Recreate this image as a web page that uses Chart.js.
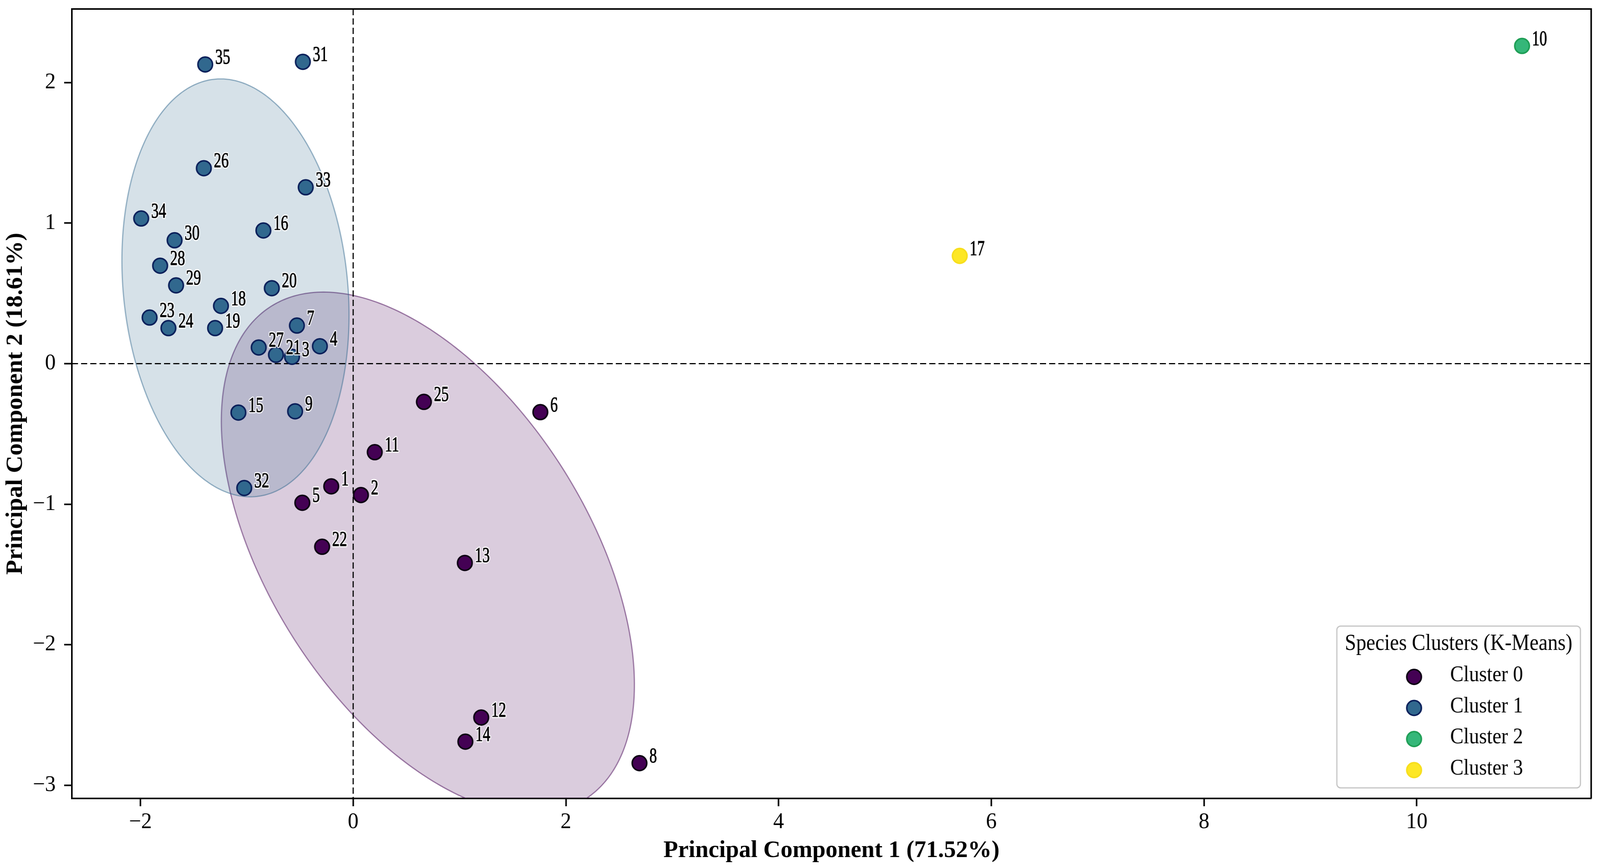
<!DOCTYPE html>
<html><head><meta charset="utf-8">
<script src="https://cdn.jsdelivr.net/npm/chart.js@4.4.1/dist/chart.umd.min.js"></script>
<style>html,body{margin:0;padding:0;background:#fff;overflow:hidden;width:100%;height:100%;}canvas{display:block;}</style>
</head><body>
<canvas id="c" width="4165" height="2221" style="width:100vw;height:100vh"></canvas>
<script>
// ---------- data ----------
const clusterNames = ['Cluster 0', 'Cluster 1', 'Cluster 2', 'Cluster 3'];

const c0Ids = ['1', '2', '5', '6', '8', '11', '12', '13', '14', '22', '25'];
const c0X = [-0.206, 0.073, -0.478, 1.760, 2.692, 0.203, 1.204, 1.050, 1.055, -0.292, 0.665];
const c0Y = [-0.873, -0.935, -0.990, -0.345, -2.843, -0.630, -2.518, -1.418, -2.690, -1.303, -0.272];

const c1Ids = ['3', '4', '7', '9', '15', '16', '18', '19', '20', '21', '23', '24', '26', '27', '28', '29', '30', '31', '32', '33', '34', '35'];
const c1X = [-0.575, -0.313, -0.529, -0.546, -1.079, -0.844, -1.243, -1.298, -0.765, -0.726, -1.914, -1.737, -1.404, -0.888, -1.815, -1.665, -1.679, -0.473, -1.024, -0.446, -1.993, -1.391];
const c1Y = [0.049, 0.124, 0.271, -0.339, -0.348, 0.948, 0.411, 0.253, 0.537, 0.063, 0.328, 0.253, 1.391, 0.115, 0.697, 0.557, 0.878, 2.148, -0.885, 1.255, 1.033, 2.129];

const c2Ids = ['10'];
const c2X = [10.99];
const c2Y = [2.261];

const c3Ids = ['17'];
const c3X = [5.703];
const c3Y = [0.767];

const xTicks = [-2, 0, 2, 4, 6, 8, 10];
const yTicks = [-3, -2, -1, 0, 1, 2];
const xRange = [-2.645, 11.64];
const yRange = [-3.094, 2.524];

const xTitle = 'Principal Component 1 (71.52%)';
const yTitle = 'Principal Component 2 (18.61%)';
const legendTitle = 'Species Clusters (K-Means)';

// ---------- styles ----------
const fillColors = ['#440154', '#31688e', '#35b779', '#fde725'];
const edgeColors = ['#0c0012', '#0a1f5a', '#1e9e55', '#f7de1c'];
const ellipseRGB = [[68, 1, 84], [49, 104, 142]];
const SERIF = "'Liberation Serif', 'Times New Roman', serif";

const clusters = [
  {ids: c0Ids, xs: c0X, ys: c0Y},
  {ids: c1Ids, xs: c1X, ys: c1Y},
  {ids: c2Ids, xs: c2X, ys: c2Y},
  {ids: c3Ids, xs: c3X, ys: c3Y}
];

function fmtTick(v) { return v < 0 ? '\u2212' + Math.abs(v) : String(v); }

function covEllipse(X, Y, nStd) {
  const n = X.length;
  const mx = X.reduce((a, b) => a + b, 0) / n;
  const my = Y.reduce((a, b) => a + b, 0) / n;
  let sxx = 0, syy = 0, sxy = 0;
  for (let i = 0; i < n; i++) {
    sxx += (X[i] - mx) ** 2; syy += (Y[i] - my) ** 2; sxy += (X[i] - mx) * (Y[i] - my);
  }
  sxx /= (n - 1); syy /= (n - 1); sxy /= (n - 1);
  const tr = sxx + syy, det = sxx * syy - sxy * sxy;
  const disc = Math.sqrt(Math.max(tr * tr / 4 - det, 0));
  const l1 = tr / 2 + disc, l2 = tr / 2 - disc;
  let vx, vy;
  if (Math.abs(sxy) > 1e-12) { vx = l1 - syy; vy = sxy; }
  else if (sxx >= syy) { vx = 1; vy = 0; } else { vx = 0; vy = 1; }
  const nn = Math.hypot(vx, vy); vx /= nn; vy /= nn;
  return {mx, my, a: nStd * Math.sqrt(l1), b: nStd * Math.sqrt(Math.max(l2, 0)), vx, vy};
}

const backgroundPlugin = {
  id: 'backgroundLayers',
  beforeDatasetsDraw(chart) {
    const {ctx, chartArea: ca, scales: {x, y}} = chart;
    ctx.save();
    ctx.beginPath();
    ctx.rect(ca.left, ca.top, ca.right - ca.left, ca.bottom - ca.top);
    ctx.clip();
    // confidence ellipses (2 std) for clusters with several points
    [0, 1].forEach(k => {
      const c = clusters[k];
      const e = covEllipse(c.xs, c.ys, 2);
      const rgb = ellipseRGB[k];
      ctx.beginPath();
      for (let i = 0; i <= 360; i++) {
        const t = i * Math.PI / 180;
        const px = e.mx + e.a * Math.cos(t) * e.vx - e.b * Math.sin(t) * e.vy;
        const py = e.my + e.a * Math.cos(t) * e.vy + e.b * Math.sin(t) * e.vx;
        const X = x.getPixelForValue(px), Y = y.getPixelForValue(py);
        if (i === 0) ctx.moveTo(X, Y); else ctx.lineTo(X, Y);
      }
      ctx.closePath();
      ctx.fillStyle = `rgba(${rgb[0]},${rgb[1]},${rgb[2]},0.2)`;
      ctx.fill();
      ctx.lineWidth = 3;
      ctx.strokeStyle = `rgba(${rgb[0]},${rgb[1]},${rgb[2]},0.5)`;
      ctx.stroke();
    });
    // dashed zero lines
    ctx.setLineDash([16, 8]);
    ctx.lineWidth = 3;
    ctx.strokeStyle = '#000';
    const x0 = x.getPixelForValue(0), y0 = y.getPixelForValue(0);
    ctx.beginPath();
    ctx.moveTo(ca.left, y0); ctx.lineTo(ca.right, y0);
    ctx.moveTo(x0, ca.top); ctx.lineTo(x0, ca.bottom);
    ctx.stroke();
    ctx.restore();
  },
  afterDatasetsDraw(chart) {
    const {ctx} = chart;
    ctx.save();
    ctx.font = `54px ${SERIF}`;
    ctx.textBaseline = 'alphabetic';
    ctx.textAlign = 'left';
    chart.data.datasets.forEach((ds, di) => {
      const meta = chart.getDatasetMeta(di);
      meta.data.forEach((pt, i) => {
        const txt = ds.ids[i];
        ctx.save();
        ctx.translate(pt.x + 26, pt.y - 2);
        ctx.scale(0.72, 1);
        ctx.lineJoin = 'round';
        ctx.lineWidth = 7;
        ctx.strokeStyle = 'rgba(255,255,255,0.85)';
        ctx.strokeText(txt, 0, 0);
        ctx.fillStyle = '#000';
        ctx.fillText(txt, 0, 0);
        ctx.lineWidth = 1.2;
        ctx.strokeStyle = '#000';
        ctx.strokeText(txt, 0, 0);
        ctx.restore();
      });
    });
    ctx.restore();
  },
  afterDraw(chart) {
    const {ctx, chartArea: ca} = chart;
    ctx.save();
    // top & right spines
    ctx.strokeStyle = '#000';
    ctx.lineWidth = 4;
    ctx.beginPath();
    ctx.moveTo(ca.left, ca.top); ctx.lineTo(ca.right, ca.top); ctx.lineTo(ca.right, ca.bottom);
    ctx.stroke();
    // legend box
    const w = 634, h = 414;
    const bx = ca.right - 28 - w, by = ca.bottom - 27 - h;
    ctx.beginPath();
    if (ctx.roundRect) ctx.roundRect(bx, by, w, h, 10); else ctx.rect(bx, by, w, h);
    ctx.fillStyle = 'rgba(255,255,255,0.85)';
    ctx.fill();
    ctx.lineWidth = 3;
    ctx.strokeStyle = '#c4c4c4';
    ctx.stroke();
    // legend title
    ctx.fillStyle = '#000';
    ctx.textBaseline = 'alphabetic';
    ctx.save();
    ctx.translate(bx + w / 2, by + 61);
    ctx.scale(0.88, 1);
    ctx.font = `60px ${SERIF}`;
    ctx.textAlign = 'center';
    ctx.fillText(legendTitle, 0, 0);
    ctx.restore();
    // entries
    clusterNames.forEach((name, k) => {
      const cy = by + 130 + k * 79.5;
      const cx = bx + 201;
      ctx.beginPath();
      ctx.arc(cx, cy, 19, 0, Math.PI * 2);
      ctx.fillStyle = fillColors[k];
      ctx.fill();
      ctx.lineWidth = 4;
      ctx.strokeStyle = edgeColors[k];
      ctx.stroke();
      ctx.save();
      ctx.translate(bx + 295, cy + 11);
      ctx.scale(0.93, 1);
      ctx.font = `56px ${SERIF}`;
      ctx.textAlign = 'left';
      ctx.fillStyle = '#000';
      ctx.fillText(name, 0, 0);
      ctx.restore();
    });
    ctx.restore();
  }
};

const datasets = clusters.map((c, k) => ({
  label: clusterNames[k],
  ids: c.ids,
  data: c.xs.map((v, i) => ({x: v, y: c.ys[i]})),
  backgroundColor: fillColors[k],
  borderColor: edgeColors[k],
  borderWidth: 4,
  pointRadius: 19,
  pointHoverRadius: 19
}));

Chart.defaults.font.family = SERIF;
Chart.defaults.color = '#000';

new Chart(document.getElementById('c'), {
  type: 'scatter',
  data: {datasets},
  options: {
    responsive: false,
    animation: false,
    devicePixelRatio: 1,
    layout: {padding: {top: 13, right: 13, bottom: 0, left: 0}},
    plugins: {legend: {display: false}, tooltip: {enabled: false}, title: {display: false}},
    scales: {
      x: {
        type: 'linear', min: xRange[0], max: xRange[1],
        afterBuildTicks: s => { s.ticks = xTicks.map(v => ({value: v})); },
        afterFit: s => { s.height = 178; s.paddingLeft = 0; s.paddingRight = 0; },
        ticks: {font: {family: SERIF, size: 56}, color: '#000', padding: 8, callback: v => fmtTick(v), maxRotation: 0, autoSkip: false},
        grid: {display: true, drawOnChartArea: false, drawTicks: true, tickLength: 20, tickWidth: 4, tickColor: '#000', color: '#000'},
        border: {display: true, color: '#000', width: 4},
        title: {display: true, text: xTitle, color: '#000', font: {family: SERIF, size: 62, weight: 'bold'}, padding: {top: 0, bottom: 7}}
      },
      y: {
        type: 'linear', min: yRange[0], max: yRange[1],
        afterBuildTicks: s => { s.ticks = yTicks.map(v => ({value: v})); },
        afterFit: s => { s.width = 187; s.paddingTop = 0; s.paddingBottom = 0; },
        ticks: {font: {family: SERIF, size: 56}, color: '#000', padding: 22, callback: v => fmtTick(v), autoSkip: false},
        grid: {display: true, drawOnChartArea: false, drawTicks: true, tickLength: 20, tickWidth: 4, tickColor: '#000', color: '#000'},
        border: {display: true, color: '#000', width: 4},
        title: {display: true, text: yTitle, color: '#000', font: {family: SERIF, size: 62, weight: 'bold'}, padding: {top: 4, bottom: 0}}
      }
    }
  },
  plugins: [backgroundPlugin]
});
</script>
</body></html>
